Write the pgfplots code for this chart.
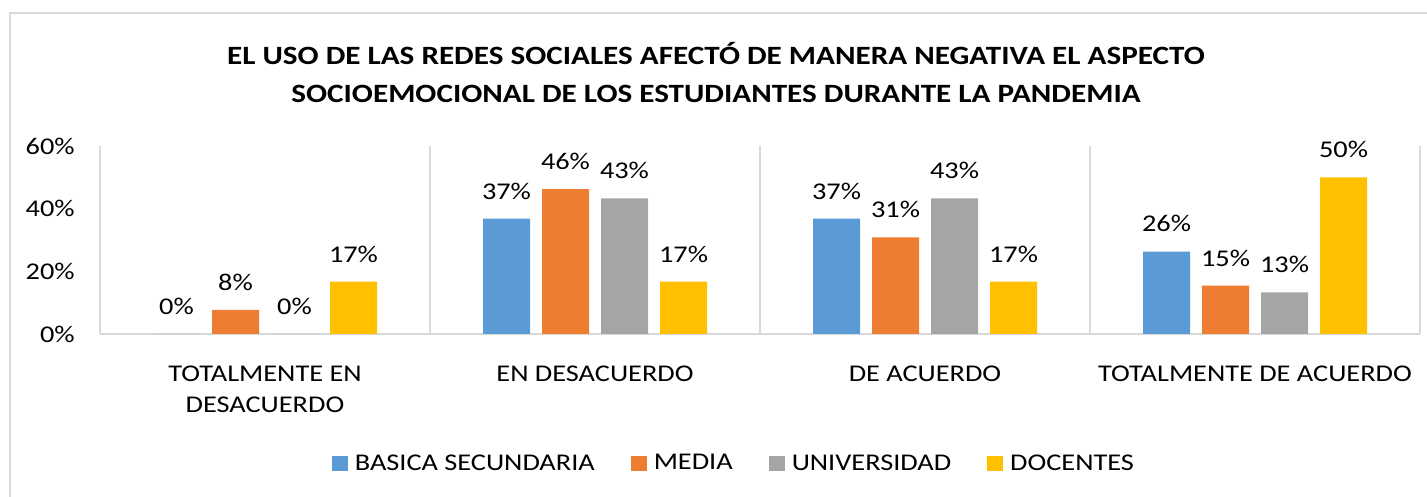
\documentclass[border=0pt]{standalone}
\usepackage{fontspec}
\setmainfont{Carlito}[FakeStretch=1.18]
\usepackage{pgfplots}
\pgfplotsset{compat=1.18}
\definecolor{cBlue}{HTML}{5B9BD5}
\definecolor{cOrange}{HTML}{ED7D31}
\definecolor{cGray}{HTML}{A5A5A5}
\definecolor{cYellow}{HTML}{FFC000}
\definecolor{cGrid}{HTML}{D9D9D9}
\begin{document}
\begin{tikzpicture}
\useasboundingbox (0,0) rectangle (713.5pt,248.5pt);
\draw[cGrid, line width=1pt] (5pt,0) -- (5pt,242pt) -- (713.5pt,242pt);
\node[font=\fontsize{13.2}{16}\selectfont\bfseries] at (358pt,221.5pt) {EL USO DE LAS REDES SOCIALES AFECTÓ DE MANERA NEGATIVA EL ASPECTO};
\node[font=\fontsize{13.2}{16}\selectfont\bfseries] at (358pt,201.5pt) {SOCIOEMOCIONAL DE LOS ESTUDIANTES DURANTE LA PANDEMIA};
\begin{axis}[
    at={(50pt,81.5pt)}, anchor=south west,
    scale only axis,
    width=660pt, height=94pt,
    ybar=6pt, bar width=23.5pt,
    xmin=-0.5, xmax=3.5,
    ymin=0, ymax=60,
    xtick={0,1,2,3},
    xticklabels={{TOTALMENTE EN\\DESACUERDO},{EN DESACUERDO},{DE ACUERDO},{TOTALMENTE DE ACUERDO}},
    ytick={0,20,40,60},
    yticklabels={0\%,20\%,40\%,60\%},
    minor xtick={-0.5,0.5,1.5,2.5,3.5},
    xminorgrids,
    minor grid style={cGrid, line width=0.75pt},
    major tick length=0pt, minor tick length=0pt,
    axis lines*=left,
    x axis line style={cGrid, line width=0.75pt},
    y axis line style={draw=none},
    xticklabel style={align=center, anchor=north, inner sep=0pt, yshift=-16pt, font=\fontsize{12}{15.3}\selectfont},
    yticklabel style={anchor=east, inner sep=0pt, xshift=-12.5pt, font=\fontsize{12}{14}\selectfont},
    nodes near coords={\pgfmathprintnumber[fixed,precision=0,assume math mode=true]{\pgfplotspointmeta}\%},
    every node near coord/.append style={font=\fontsize{12}{14}\selectfont, anchor=south, inner sep=0pt, yshift=9.5pt, black},
    legend columns=4,
    legend style={at={(0.481,-0.69)}, anchor=center, draw=none, fill=none, font=\fontsize{12}{14}\selectfont,
        /tikz/every odd column/.append style={column sep=1.5pt},
        /tikz/every even column/.append style={column sep=16pt}},
    legend image code/.code={\fill[#1] (0pt,-3.75pt) rectangle (8pt,3.75pt);},
]
\addplot[fill=cBlue, draw=none] coordinates {(0,0) (1,36.8) (2,36.8) (3,26.3)};
\addplot[fill=cOrange, draw=none] coordinates {(0,7.7) (1,46.2) (2,30.8) (3,15.4)};
\addplot[fill=cGray, draw=none] coordinates {(0,0) (1,43.3) (2,43.3) (3,13.3)};
\addplot[fill=cYellow, draw=none] coordinates {(0,16.7) (1,16.7) (2,16.7) (3,50.0)};
\legend{BASICA SECUNDARIA, MEDIA, UNIVERSIDAD, DOCENTES}
\end{axis}
\end{tikzpicture}
\end{document}
